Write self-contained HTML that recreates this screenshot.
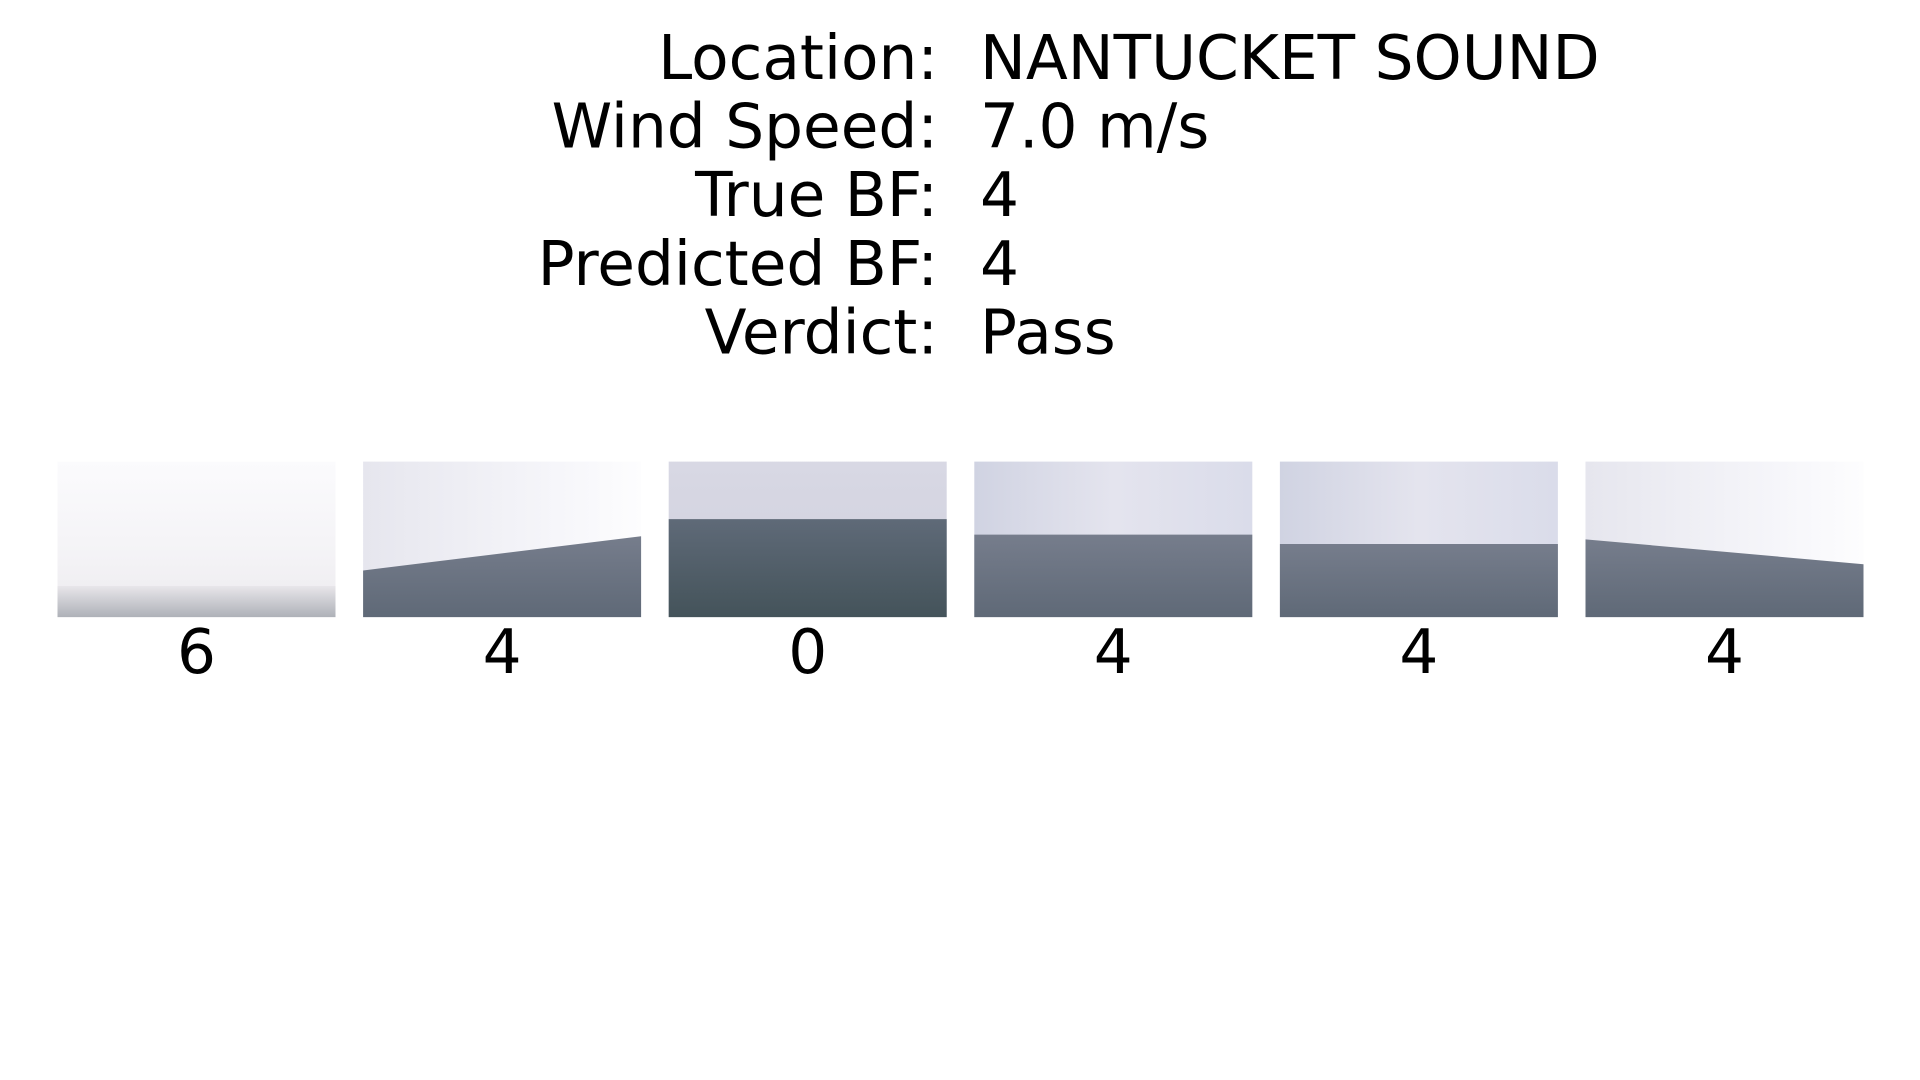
<!DOCTYPE html>
<html><head><meta charset="utf-8"><style>
html,body{margin:0;padding:0;background:#fff;width:1920px;height:1080px;overflow:hidden}
svg{display:block}
text{font-family:"DejaVu Sans","Liberation Sans",sans-serif;fill:#000}
</style></head><body>
<svg id="fig" width="1920" height="1080" viewBox="0 0 1920 1080">
<defs>
<linearGradient id="skyA" x1="0" y1="0" x2="0" y2="1"><stop offset="0" stop-color="#fbfbfd"/><stop offset="0.6" stop-color="#f4f3f6"/><stop offset="1" stop-color="#eceaee"/></linearGradient>
<linearGradient id="skyB" x1="0" y1="0" x2="1" y2="0"><stop offset="0" stop-color="#e6e6ee"/><stop offset="0.7" stop-color="#f6f6fa"/><stop offset="1" stop-color="#fdfdfe"/></linearGradient>
<linearGradient id="skyC" x1="0" y1="0" x2="0" y2="1"><stop offset="0" stop-color="#d8d8e4"/><stop offset="1" stop-color="#cfd0dc"/></linearGradient>
<linearGradient id="skyD" x1="0" y1="0" x2="1" y2="0"><stop offset="0" stop-color="#d0d3e2"/><stop offset="0.5" stop-color="#e4e4ee"/><stop offset="1" stop-color="#dadcea"/></linearGradient>
<linearGradient id="seaDark" x1="0" y1="0" x2="0" y2="1"><stop offset="0" stop-color="#5f6a78"/><stop offset="1" stop-color="#44535a"/></linearGradient>
<linearGradient id="seaMid" x1="0" y1="0" x2="0" y2="1"><stop offset="0" stop-color="#767d8c"/><stop offset="1" stop-color="#5f6977"/></linearGradient>
<linearGradient id="seaFog" x1="0" y1="0" x2="0" y2="1"><stop offset="0" stop-color="#e8e6ea"/><stop offset="1" stop-color="#aeb1b8"/></linearGradient>
</defs>
<g id="info"></g>
<g id="panels"></g>
</svg>
<script>
const infoKeys = ["Location:", "Wind Speed:", "True BF:", "Predicted BF:", "Verdict:"];
const infoVals = ["NANTUCKET SOUND", "7.0 m/s", "4", "4", "Pass"];
const bfLabels = ["6", "4", "0", "4", "4", "4"];
const ns = "http://www.w3.org/2000/svg";
const info = document.getElementById('info');
infoKeys.forEach((k, i) => {
  const y = 79 + i * 68.6;
  const t1 = document.createElementNS(ns, 'text');
  t1.setAttribute('x', 938); t1.setAttribute('y', y);
  t1.setAttribute('text-anchor', 'end'); t1.setAttribute('font-size', 61.3);
  t1.textContent = k;
  
  
  info.appendChild(t1);
  const t2 = document.createElementNS(ns, 'text');
  t2.setAttribute('x', 980); t2.setAttribute('y', y);
  t2.setAttribute('font-size', 61.3);
  t2.textContent = infoVals[i];
  
  
  info.appendChild(t2);
});
const styles = [
  {sky:'url(#skyA)', sea:'url(#seaFog)', y0:0.80, y1:0.80},
  {sky:'url(#skyB)', sea:'url(#seaMid)', y0:0.70, y1:0.48},
  {sky:'url(#skyC)', sea:'url(#seaDark)', y0:0.37, y1:0.37},
  {sky:'url(#skyD)', sea:'url(#seaMid)', y0:0.47, y1:0.47},
  {sky:'url(#skyD)', sea:'url(#seaMid)', y0:0.53, y1:0.53},
  {sky:'url(#skyB)', sea:'url(#seaMid)', y0:0.50, y1:0.66}
];
const panels = document.getElementById('panels');
const imgW = 278, imgH = 155.5, imgTop = 461.6, imgLeft = 57.5, imgStep = 305.6;
bfLabels.forEach((lab, i) => {
  const x = imgLeft + i * imgStep, s = styles[i];
  const g = document.createElementNS(ns, 'g');
  
  
  const r = document.createElementNS(ns, 'rect');
  r.setAttribute('x', x); r.setAttribute('y', imgTop); r.setAttribute('width', imgW); r.setAttribute('height', imgH);
  r.setAttribute('fill', s.sky);
  g.appendChild(r);
  const p = document.createElementNS(ns, 'polygon');
  p.setAttribute('points', `${x},${imgTop + imgH * s.y0} ${x + imgW},${imgTop + imgH * s.y1} ${x + imgW},${imgTop + imgH} ${x},${imgTop + imgH}`);
  p.setAttribute('fill', s.sea);
  g.appendChild(p);
  panels.appendChild(g);
  const t = document.createElementNS(ns, 'text');
  t.setAttribute('x', x + imgW / 2); t.setAttribute('y', 673);
  t.setAttribute('text-anchor', 'middle'); t.setAttribute('font-size', 61.3);
  t.textContent = lab;
  
  
  panels.appendChild(t);
});
</script>
</body></html>
